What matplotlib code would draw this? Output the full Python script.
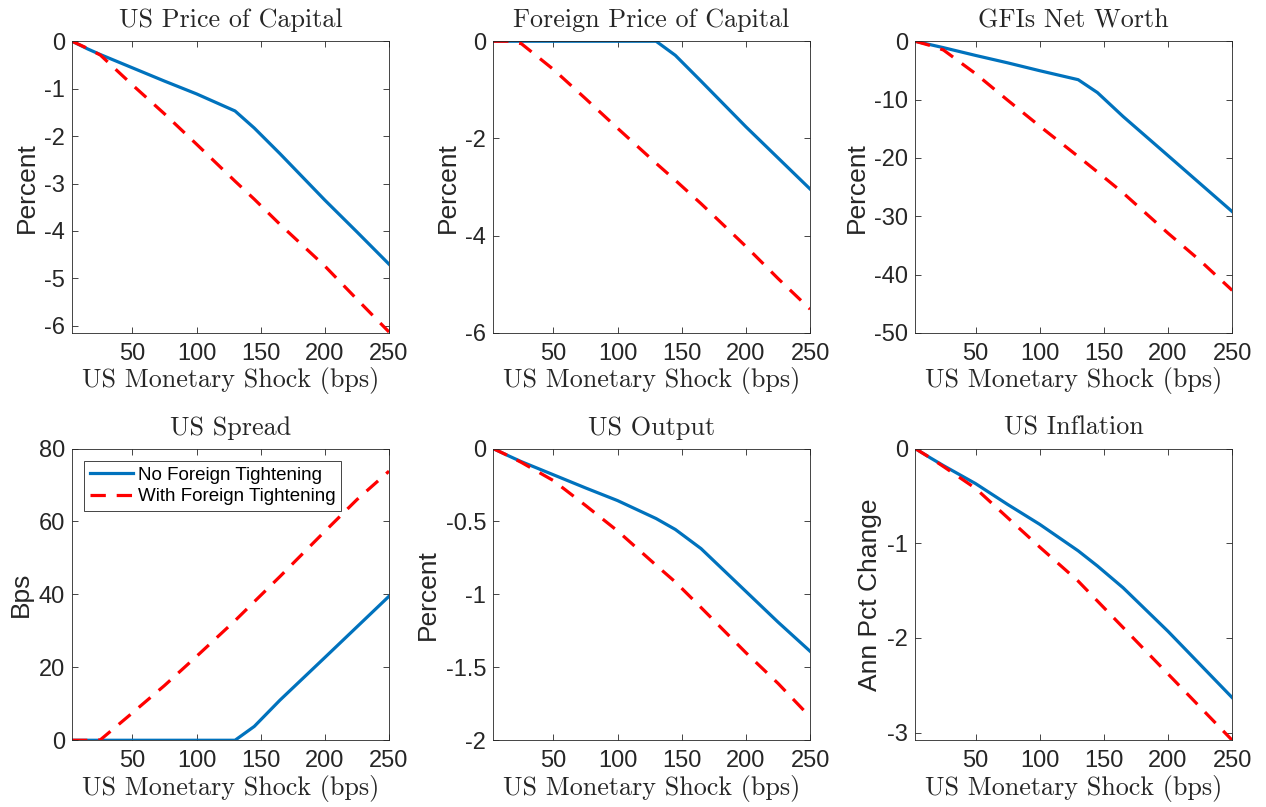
import matplotlib
matplotlib.use('Agg')
import matplotlib.pyplot as plt

# shock sizes (bps) at which the curves are read
shock = [3, 15, 25, 50, 75, 100, 130, 145, 165, 200, 225, 250]

# "No Foreign Tightening" (blue) / "With Foreign Tightening" (red)
us_pk_no = [0, -0.16, -0.28, -0.56, -0.84, -1.11, -1.47, -1.83, -2.37, -3.35, -4.02, -4.70]
us_pk_with = [0, -0.15, -0.29, -0.92, -1.53, -2.17, -2.95, -3.33, -3.86, -4.74, -5.44, -6.13]

fo_pk_no = [0, 0, 0, 0, 0, 0, 0, -0.29, -0.82, -1.76, -2.40, -3.04]
fo_pk_with = [0, 0, -0.05, -0.58, -1.18, -1.79, -2.51, -2.86, -3.34, -4.22, -4.88, -5.51]

gfi_nw_no = [0, -0.6, -1.1, -2.43, -3.7, -5.05, -6.59, -8.8, -12.9, -19.6, -24.4, -29.2]
gfi_nw_with = [0, -0.75, -1.5, -5.55, -10.1, -14.55, -19.75, -22.4, -26.0, -32.9, -37.6, -42.7]

spread_no = [0, 0, 0, 0, 0, 0, 0, 3.8, 11.0, 22.7, 31.1, 39.5]
spread_with = [0, 0, 0.1, 7.5, 15.0, 23.0, 32.8, 38.0, 44.9, 57.3, 66.0, 73.8]

output_no = [0, -0.05, -0.09, -0.18, -0.27, -0.357, -0.48, -0.555, -0.686, -0.98, -1.19, -1.39]
output_with = [0, -0.05, -0.095, -0.22, -0.39, -0.565, -0.80, -0.915, -1.09, -1.40, -1.61, -1.84]

infl_no = [0, -0.10, -0.18, -0.37, -0.59, -0.80, -1.08, -1.24, -1.47, -1.93, -2.28, -2.63]
infl_with = [0, -0.10, -0.19, -0.42, -0.73, -1.04, -1.40, -1.61, -1.89, -2.38, -2.73, -3.08]

titles = ['US Price of Capital', 'Foreign Price of Capital', 'GFIs Net Worth',
          'US Spread', 'US Output', 'US Inflation']
ylabels = ['Percent', 'Percent', 'Percent', 'Bps', 'Percent', 'Ann Pct Change']
series = [(us_pk_no, us_pk_with), (fo_pk_no, fo_pk_with), (gfi_nw_no, gfi_nw_with),
          (spread_no, spread_with), (output_no, output_with), (infl_no, infl_with)]
ylims = [(-6.15, 0), (-6, 0), (-50, 0), (0, 80), (-2, 0), (-3.08, 0)]
yticks = [[-6, -5, -4, -3, -2, -1, 0], [-6, -4, -2, 0], [-50, -40, -30, -20, -10, 0],
          [0, 20, 40, 60, 80], [-2, -1.5, -1, -0.5, 0], [-3, -2, -1, 0]]
ytick_labels = [['-6', '-5', '-4', '-3', '-2', '-1', '0'], ['-6', '-4', '-2', '0'],
                ['-50', '-40', '-30', '-20', '-10', '0'], ['0', '20', '40', '60', '80'],
                ['-2', '-1.5', '-1', '-0.5', '0'], ['-3', '-2', '-1', '0']]
xticks = [50, 100, 150, 200, 250]

BLUE = '#0072BD'
RED = '#FF0000'
DARK = '#262626'
SANS = 'Liberation Sans'
SERIF = 'cmr10'

fig = plt.figure(figsize=(12.66, 8.07), dpi=100)

lefts = [0.0569, 0.3895, 0.7229]
bottoms = [0.5874, 0.0827]
w, h = 0.2504, 0.3615

axes = []
for i in range(6):
    r, c = divmod(i, 3)
    ax = fig.add_axes([lefts[c], bottoms[r], w, h])
    no, wi = series[i]
    ax.plot(shock, no, color=BLUE, lw=2.3, solid_joinstyle='round', label='No Foreign Tightening')
    ax.plot(shock, wi, color=RED, lw=2.3, dashes=(4.8, 3.4), label='With Foreign Tightening')
    ax.set_xlim(3, 250)
    ax.set_ylim(*ylims[i])
    ax.set_xticks(xticks)
    ax.set_xticklabels([str(t) for t in xticks], family=SANS, fontsize=17, color=DARK)
    ax.set_yticks(yticks[i])
    ax.set_yticklabels(ytick_labels[i], family=SANS, fontsize=17, color=DARK)
    ax.tick_params(direction='in', length=4, width=0.6, color=DARK,
                   top=True, right=True)
    ax.tick_params(axis='x', pad=7)
    ax.tick_params(axis='y', pad=5)
    for s in ax.spines.values():
        s.set_linewidth(0.6)
        s.set_color(DARK)
    ax.set_title(titles[i], family=SERIF, fontsize=18.8, color=DARK, pad=10)
    ax.set_xlabel('US Monetary Shock (bps)', family=SERIF, fontsize=18.8, color=DARK, labelpad=2)
    ax.set_ylabel(ylabels[i], family=SANS, fontsize=19, color=DARK, labelpad=4)
    axes.append(ax)

leg = axes[3].legend(loc='upper left', bbox_to_anchor=(0.039, 0.958), borderaxespad=0,
                     prop={'family': SANS, 'size': 13.5}, frameon=True, fancybox=False,
                     framealpha=1, edgecolor=DARK, handlelength=2.3, handletextpad=0.25,
                     borderpad=0.3, labelspacing=0.25)
leg.get_frame().set_linewidth(0.6)
for t in leg.get_texts():
    t.set_color('black')

fig.savefig('out.png', dpi=100)
